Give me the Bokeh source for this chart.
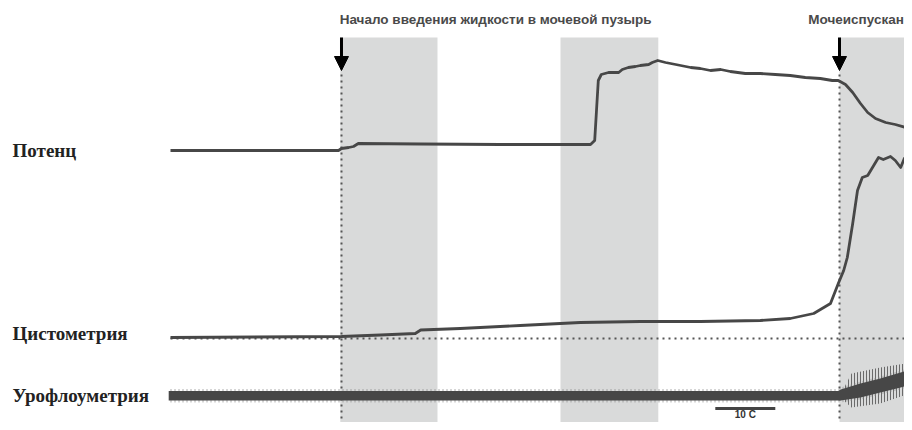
from bokeh.plotting import figure
from bokeh.models import Range1d, ColumnDataSource, Arrow, NormalHead
from bokeh.core.properties import value
from bokeh.embed import file_html
from bokeh.resources import INLINE

# ---- data (time in seconds, signal level in arbitrary units) ----
potenc_t = [0, 28.0, 28.5, 29.7, 30.5, 31.3, 41.7, 55, 70, 70.7, 71, 71.3, 71.8, 73, 74.7,
            75.3, 76.3, 77.5, 78.3, 79.7, 80.3, 81.2, 82.5, 84.2, 86.7, 88.3, 90, 91.7,
            93.3, 95.8, 98.3, 100.8, 103.3, 105.8, 108.3, 110.3, 111.3, 112.5, 113.7,
            115, 116.2, 117.5, 119.2, 120.8, 122.5, 123.7]
potenc_v = [280, 280, 282, 283, 284, 287, 286.5, 286, 286, 290, 320, 350, 356, 358, 358,
            361, 363, 364, 365, 366, 368, 370, 368, 366, 363, 362, 360, 361,
            359, 357, 357, 356, 355, 353, 352, 350, 350, 346, 338,
            327, 318, 312, 308, 306, 303, 302]

cysto_t = [0, 28.5, 35, 40.8, 41.7, 48.3, 58.3, 68.3, 78.3, 88.3, 98.3, 103.3, 107.2,
           110, 111.3, 112.2, 112.8, 113.7, 114.5, 115.3, 116.2, 117, 118, 118.8, 120,
           120.8, 121.7, 122.3, 123, 123.7]
cysto_v = [93, 94, 95.5, 97, 100.5, 102, 105, 108, 109, 109, 110, 112, 117,
           127, 147, 160, 173, 207, 240, 253, 255, 263, 273, 271, 274,
           270, 263, 272, 276, 270]
cysto_zero = 92

uro_t = [-0.3, 111.3, 111.7, 115, 118.3, 121.7, 123.7]
uro_lo = [30, 30, 30, 33, 38, 43, 47]
uro_hi = [39.5, 39.5, 41, 47, 52, 58, 62]
uro_fringe_lo = [28, 28, 28, 31, 36, 41, 45]
uro_fringe_hi = [41.5, 41.5, 43, 49, 54, 60, 64]
spike_t = [112.2, 113.5, 118.3, 123.7]
spike_lo = [30, 23, 27, 38]
spike_hi = [42, 57, 63, 68]

band_start = [28.3, 65.0, 111.5]
band_end = [44.5, 81.3, 130.0]
band_bottom, band_top = 0, 393

event_t = [28.5, 111.5]
event_labels = ["Начало введения жидкости в мочевой пузырь", "Мочеиспускание"]
event_label_t = [28.2, 106.3]

track_labels = ["Потенц", "Цистометрия", "Урофлоуметрия"]
track_label_v = [280, 97, 35]

scale_t = [90.8, 100.8]
scale_label = "10 С"

TRACE = "#474747"

p = figure(width=904, height=422, output_backend="svg", toolbar_location=None,
           x_range=Range1d(-28.333, 122.333), y_range=Range1d(8, 430),
           min_border=0, min_border_left=0, min_border_right=0,
           min_border_top=0, min_border_bottom=0)
p.axis.visible = False
p.grid.visible = False
p.outline_line_color = None
p.background_fill_color = "white"
p.border_fill_color = "white"

# grey bands
p.quad(left=band_start, right=band_end, bottom=band_bottom, top=band_top,
       fill_color="#d9dada", line_color=None)

# dotted event lines
p.segment(x0=event_t, x1=event_t, y0=[band_bottom] * 2, y1=[360] * 2,
          line_color="#555555", line_width=2, line_dash="2 4")
# zero line of cystometry
p.segment(x0=[0], x1=[123.7], y0=[cysto_zero], y1=[cysto_zero],
          line_color="#555555", line_width=2, line_dash="2 4")

# urofluometry
p.varea(x=spike_t, y1=spike_lo, y2=spike_hi, fill_alpha=0, hatch_pattern="vertical_line",
        hatch_color="#6a6a6a", hatch_scale=3, hatch_weight=1)
p.varea(x=uro_t, y1=uro_fringe_lo, y2=uro_fringe_hi, fill_alpha=0,
        hatch_pattern="vertical_line", hatch_color="#8a8a8a", hatch_scale=4,
        hatch_weight=1, hatch_alpha=0.7)
p.varea(x=uro_t, y1=uro_lo, y2=uro_hi, fill_color=TRACE)

# traces
p.line(potenc_t, potenc_v, line_color=TRACE, line_width=2.8, line_join="round")
p.line(cysto_t, cysto_v, line_color=TRACE, line_width=2.8, line_join="round")

# arrows
arr_src = ColumnDataSource(dict(x=event_t, y0=[393] * 2, y1=[360] * 2))
p.add_layout(Arrow(x_start="x", y_start="y0", x_end="x", y_end="y1", source=arr_src,
                   line_color="black", line_width=3,
                   end=NormalHead(size=14, fill_color="black", line_color="black", line_width=1)))

# top labels
p.text(x=event_label_t, y=[411] * 2, text=event_labels, text_font=value("Liberation Sans"),
       text_font_style="bold", text_font_size="13.5px", text_color="#4a4a4a",
       text_baseline="alphabetic", text_align="left")

# track labels
p.text(x=[-26.33] * 3, y=track_label_v, text=track_labels, text_font=value("Liberation Serif"),
       text_font_style="bold", text_font_size="19px", text_color="#222222",
       text_baseline="alphabetic", text_align="left")

# scale bar
p.line(scale_t, [22, 22], line_color="#444444", line_width=3)
p.text(x=[sum(scale_t) / 2], y=[16], text=[scale_label], text_font=value("Liberation Sans"),
       text_font_style="bold", text_font_size="10px", text_color="#333333",
       text_baseline="alphabetic", text_align="center")

open("out.html", "w").write(file_html(p, INLINE))
